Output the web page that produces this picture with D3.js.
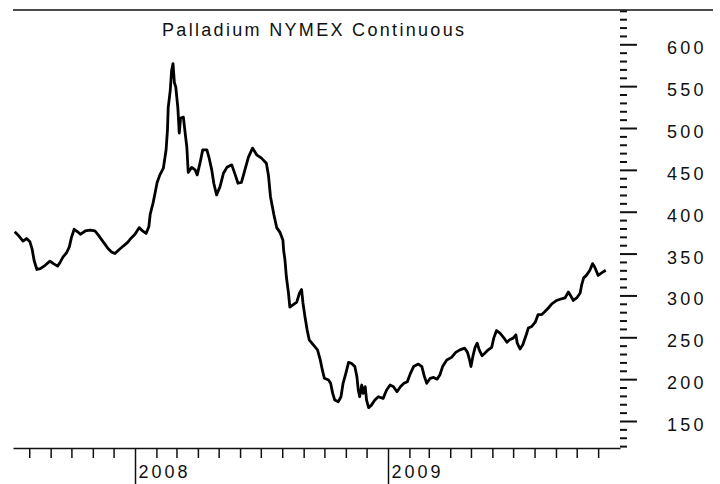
<!DOCTYPE html>
<html><head><meta charset="utf-8">
<script src="https://cdn.jsdelivr.net/npm/d3@7"></script>
<style>body{margin:0;background:#fff}svg{display:block}</style>
</head><body>
<svg id="c" width="720" height="484"></svg>
<script>
const title = "Palladium NYMEX Continuous";
const dates = [
"2007-07-11","2007-07-16","2007-07-23","2007-07-28","2007-08-02","2007-08-05","2007-08-08","2007-08-12","2007-08-17","2007-08-24",
"2007-08-31","2007-09-05","2007-09-11","2007-09-15","2007-09-19","2007-09-24","2007-09-28","2007-10-01","2007-10-05","2007-10-10",
"2007-10-14","2007-10-21","2007-10-28","2007-11-04","2007-11-09","2007-11-16","2007-11-23","2007-11-28","2007-12-03","2007-12-08",
"2007-12-15","2007-12-21","2007-12-27","2008-01-01","2008-01-07","2008-01-12","2008-01-17","2008-01-21","2008-01-23","2008-01-27",
"2008-01-30","2008-02-02","2008-02-06","2008-02-11","2008-02-15","2008-02-17","2008-02-18","2008-02-21","2008-02-23","2008-02-25",
"2008-02-27","2008-02-29","2008-03-03","2008-03-05","2008-03-07","2008-03-11","2008-03-13","2008-03-16","2008-03-18","2008-03-23",
"2008-03-28","2008-03-31","2008-04-04","2008-04-08","2008-04-14","2008-04-17","2008-04-21","2008-04-24","2008-04-28","2008-05-03",
"2008-05-08","2008-05-13","2008-05-20","2008-05-25","2008-05-29","2008-06-03","2008-06-08","2008-06-13","2008-06-19","2008-06-25",
"2008-07-02","2008-07-09","2008-07-12","2008-07-15","2008-07-20","2008-07-24","2008-07-29","2008-08-02","2008-08-03","2008-08-05",
"2008-08-07","2008-08-10","2008-08-12","2008-08-17","2008-08-22","2008-08-26","2008-08-29","2008-08-31","2008-09-03","2008-09-06",
"2008-09-09","2008-09-15","2008-09-21","2008-09-25","2008-09-28","2008-10-01","2008-10-07","2008-10-10","2008-10-13","2008-10-16",
"2008-10-21","2008-10-25","2008-10-28","2008-11-01","2008-11-05","2008-11-09","2008-11-14","2008-11-17","2008-11-19","2008-11-21",
"2008-11-24","2008-11-26","2008-11-29","2008-12-01","2008-12-04","2008-12-08","2008-12-13","2008-12-18","2008-12-25","2008-12-30",
"2009-01-04","2009-01-09","2009-01-14","2009-01-19","2009-01-24","2009-01-29","2009-02-02","2009-02-07","2009-02-14","2009-02-19",
"2009-02-22","2009-02-26","2009-03-03","2009-03-08","2009-03-13","2009-03-17","2009-03-21","2009-03-27","2009-04-03","2009-04-09",
"2009-04-15","2009-04-22","2009-04-26","2009-04-29","2009-05-01","2009-05-04","2009-05-07","2009-05-10","2009-05-13","2009-05-17",
"2009-05-21","2009-05-26","2009-05-31","2009-06-03","2009-06-07","2009-06-12","2009-06-17","2009-06-22","2009-06-26","2009-07-01",
"2009-07-05","2009-07-07","2009-07-11","2009-07-15","2009-07-20","2009-07-23","2009-07-28","2009-08-02","2009-08-06","2009-08-11",
"2009-08-15","2009-08-21","2009-08-26","2009-09-02","2009-09-09","2009-09-14","2009-09-19","2009-09-22","2009-09-26","2009-10-01",
"2009-10-06","2009-10-08","2009-10-11","2009-10-15","2009-10-20","2009-10-24","2009-10-27","2009-11-01","2009-11-06","2009-11-12"
];
const prices = [
376,372,365,368,364,356,342,331,332,336,
341,338,335,340,346,351,358,369,379,376,
373,377,378,377,372,364,356,352,350,354,
359,363,369,373,381,377,374,382,397,410,
422,435,444,452,474,498,524,545,569,577,
554,549,524,494,512,513,498,477,447,453,
450,444,458,474,474,465,450,434,420,430,
446,453,456,444,434,435,450,465,476,468,
464,458,444,418,396,381,375,366,354,342,
322,303,286,289,292,303,307,291,274,259,
247,241,235,223,211,201,199,195,183,175,
173,179,195,207,220,219,215,203,187,179,
193,183,191,175,166,169,175,179,177,187,
193,191,185,191,195,197,206,215,218,215,
205,195,201,202,200,205,215,223,226,232,
235,237,232,223,215,228,238,243,235,228,
231,235,238,249,258,255,250,244,247,249,
253,243,236,241,253,261,263,268,277,277,
280,285,290,294,296,297,304,300,294,297,
303,312,321,324,330,338,334,324,327,330
];
const yMajorTicks = [150,200,250,300,350,400,450,500,550,600];
const yMinorStart = 120, yMinorEnd = 640, yMinorStep = 10;
const monthTickStart = "2007-08-01", monthTickEnd = "2009-12-01";

const parse = d3.utcParse("%Y-%m-%d");
const data = dates.map((d,i)=>({date:parse(d), v:prices[i]}));

const svg = d3.select("#c");
const ink = "#111";
const font = "'Liberation Sans', Arial, sans-serif";

// x scale calibrated: 2008-01-01 -> 135, 2009-01-01 -> 388
const xCal = d3.scaleUtc().domain([parse("2008-01-01"), parse("2009-01-01")]).range([135,388]);
const x = d3.scaleUtc().domain([xCal.invert(13), xCal.invert(620)]).range([13,620]);
const y = d3.scaleLinear().domain([150,600]).range([421,44.3]);

// top border
svg.append("line").attr("x1",13).attr("x2",713).attr("y1",10).attr("y2",10)
  .attr("stroke",ink).attr("stroke-width",1.6);

// title
svg.append("text").attr("x",162).attr("y",36).attr("fill",ink)
  .attr("font-family",font).attr("font-size",18)
  .attr("textLength",302).attr("lengthAdjust","spacing")
  .text(title);

// bottom axis
const months = d3.utcMonths(parse(monthTickStart), parse(monthTickEnd));
const gx = svg.append("g").attr("transform","translate(0,448)")
  .call(d3.axisBottom(x).tickValues(months).tickSize(10).tickSizeOuter(0)
    .tickFormat(d => d.getUTCMonth()===0 ? d3.utcFormat("%Y")(d) : ""));
gx.select(".domain").attr("stroke",ink).attr("stroke-width",1.6);
gx.selectAll(".tick line").attr("stroke",ink).attr("stroke-width",1.5)
  .attr("y2", d => d.getUTCMonth()===0 ? 40 : 10);
gx.selectAll(".tick text").attr("fill",ink).attr("font-family",font).attr("font-size",18)
  .attr("text-anchor","start").attr("x",3).attr("y",30).attr("dy",0)
  .attr("letter-spacing","3px");

// right axis
const yTicks = d3.range(yMinorStart, yMinorEnd+1, yMinorStep);
const gy = svg.append("g").attr("transform","translate(620,0)")
  .call(d3.axisRight(y).tickValues(yTicks).tickSize(7)
    .tickFormat(d => yMajorTicks.includes(d) ? d : ""));
gy.select(".domain").remove();
gy.selectAll(".tick line").attr("stroke",ink).attr("stroke-width",2)
  .attr("x2", d => yMajorTicks.includes(d) ? 17 : 7);
gy.selectAll(".tick text").attr("fill",ink).attr("font-family",font).attr("font-size",18)
  .attr("text-anchor","start").attr("x",47).attr("dy",0).attr("y",9.5)
  .attr("letter-spacing","3.3px");

// price line
const line = d3.line().x(d=>x(d.date)).y(d=>y(d.v));
svg.append("path").datum(data).attr("d",line).attr("fill","none")
  .attr("stroke","#000").attr("stroke-width",2.8).attr("stroke-linejoin","round");
</script>
</body></html>
